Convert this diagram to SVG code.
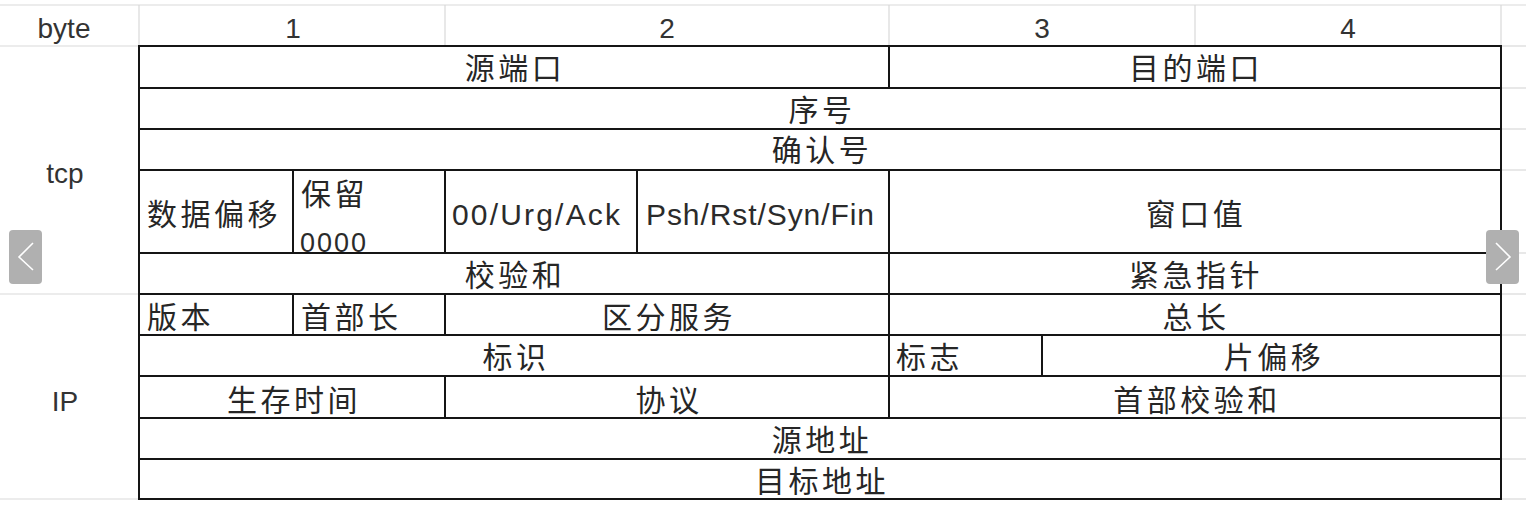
<svg xmlns="http://www.w3.org/2000/svg" width="1526" height="511" viewBox="0 0 1526 511">
<style>
.g{stroke:#d9d9d9;stroke-width:1.2;fill:none}
.c{fill:none;stroke:#151515;stroke-width:2}
.t{font-family:"Noto Sans CJK SC","Noto Sans",sans-serif;font-size:30px;fill:#262626;letter-spacing:3.5px}
.m{text-anchor:middle}
.l{font-family:"Liberation Sans",Arial,sans-serif;fill:#2b2b2b}
.h{font-family:"Liberation Sans",Arial,sans-serif;font-size:28px;fill:#333;text-anchor:middle}
.btn{fill:#b0b0b0}
.chev{fill:none;stroke:#fff;stroke-width:1.6}
</style>
<rect width="1526" height="511" fill="#fff"/>
<g id="grid-light">
<line class="g" x1="0" y1="5" x2="1526" y2="5"/>
<line class="g" x1="139" y1="5" x2="139" y2="46"/>
<line class="g" x1="445" y1="5" x2="445" y2="46"/>
<line class="g" x1="889" y1="5" x2="889" y2="46"/>
<line class="g" x1="1195" y1="5" x2="1195" y2="46"/>
<line class="g" x1="1501" y1="5" x2="1501" y2="46"/>
<line class="g" x1="0" y1="46" x2="139" y2="46"/>
<line class="g" x1="0" y1="294" x2="139" y2="294"/>
<line class="g" x1="0" y1="499" x2="139" y2="499"/>
<line class="g" x1="1501" y1="46" x2="1526" y2="46"/>
<line class="g" x1="1501" y1="88" x2="1526" y2="88"/>
<line class="g" x1="1501" y1="129" x2="1526" y2="129"/>
<line class="g" x1="1501" y1="170" x2="1526" y2="170"/>
<line class="g" x1="1501" y1="253" x2="1526" y2="253"/>
<line class="g" x1="1501" y1="294" x2="1526" y2="294"/>
<line class="g" x1="1501" y1="335" x2="1526" y2="335"/>
<line class="g" x1="1501" y1="376" x2="1526" y2="376"/>
<line class="g" x1="1501" y1="418" x2="1526" y2="418"/>
<line class="g" x1="1501" y1="459" x2="1526" y2="459"/>
<line class="g" x1="1501" y1="499" x2="1526" y2="499"/>
</g>
<g id="header">
<text class="h" x="64" y="38">byte</text>
<text class="h" x="293" y="38">1</text>
<text class="h" x="667" y="38">2</text>
<text class="h" x="1042" y="38">3</text>
<text class="h" x="1348" y="38">4</text>
</g>
<g id="label-tcp"><text class="h" x="65" y="183">tcp</text></g>
<g id="label-ip"><text class="h" x="65" y="411">IP</text></g>

<g id="src-port"><rect class="c" x="139" y="46" width="750" height="42"/><text class="t m" x="515" y="79">源端口</text></g>
<g id="dst-port"><rect class="c" x="889" y="46" width="612" height="42"/><text class="t m" x="1196" y="79">目的端口</text></g>
<g id="seq"><rect class="c" x="139" y="88" width="1362" height="41"/><text class="t m" x="822" y="121">序号</text></g>
<g id="ack"><rect class="c" x="139" y="129" width="1362" height="41"/><text class="t m" x="822" y="161">确认号</text></g>
<g id="data-offset"><rect class="c" x="139" y="170" width="154" height="83"/><text class="t" x="147" y="225">数据偏移</text></g>
<g id="reserved"><rect class="c" x="293" y="170" width="152" height="83"/><text class="t" x="301" y="205">保留</text><text class="l" x="300" y="252" font-size="27" textLength="66">0000</text></g>
<g id="flags1"><rect class="c" x="445" y="170" width="192" height="83"/><text class="l" x="452" y="225" font-size="30" textLength="168">00/Urg/Ack</text></g>
<g id="flags2"><rect class="c" x="637" y="170" width="252" height="83"/><text class="l" x="646" y="225" font-size="30" textLength="228">Psh/Rst/Syn/Fin</text></g>
<g id="window"><rect class="c" x="889" y="170" width="612" height="83"/><text class="t m" x="1196" y="225">窗口值</text></g>
<g id="checksum"><rect class="c" x="139" y="253" width="750" height="41"/><text class="t m" x="515" y="286">校验和</text></g>
<g id="urgent"><rect class="c" x="889" y="253" width="612" height="41"/><text class="t m" x="1196" y="286">紧急指针</text></g>
<g id="version"><rect class="c" x="139" y="294" width="154" height="41"/><text class="t" x="147" y="328">版本</text></g>
<g id="ihl"><rect class="c" x="293" y="294" width="152" height="41"/><text class="t" x="301" y="328">首部长</text></g>
<g id="tos"><rect class="c" x="445" y="294" width="444" height="41"/><text class="t m" x="669" y="328">区分服务</text></g>
<g id="total-len"><rect class="c" x="889" y="294" width="612" height="41"/><text class="t m" x="1196" y="328">总长</text></g>
<g id="ident"><rect class="c" x="139" y="335" width="750" height="41"/><text class="t m" x="516" y="368">标识</text></g>
<g id="ip-flags"><rect class="c" x="889" y="335" width="153" height="41"/><text class="t" x="896" y="368">标志</text></g>
<g id="frag-offset"><rect class="c" x="1042" y="335" width="459" height="41"/><text class="t m" x="1274" y="368">片偏移</text></g>
<g id="ttl"><rect class="c" x="139" y="376" width="306" height="42"/><text class="t m" x="294" y="411">生存时间</text></g>
<g id="protocol"><rect class="c" x="445" y="376" width="444" height="42"/><text class="t m" x="669" y="411">协议</text></g>
<g id="hdr-checksum"><rect class="c" x="889" y="376" width="612" height="42"/><text class="t m" x="1197" y="411">首部校验和</text></g>
<g id="src-addr"><rect class="c" x="139" y="418" width="1362" height="41"/><text class="t m" x="822" y="451">源地址</text></g>
<g id="dst-addr"><rect class="c" x="139" y="459" width="1362" height="40"/><text class="t m" x="822" y="492">目标地址</text></g>

<g id="btn-prev"><rect class="btn" x="9" y="230" width="33" height="54" rx="4"/><polyline class="chev" points="33,243 19,257 33,270"/></g>
<g id="btn-next"><rect class="btn" x="1486" y="230" width="33" height="54" rx="4"/><polyline class="chev" points="1496,243 1510,257 1496,270"/></g>
<g id="connectors"></g>
</svg>
